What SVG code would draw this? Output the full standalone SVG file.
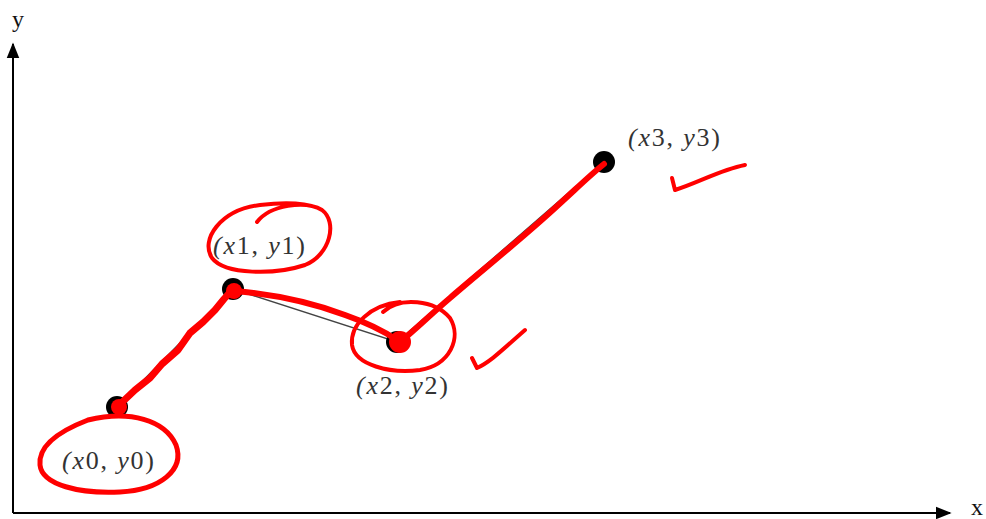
<svg xmlns="http://www.w3.org/2000/svg" width="986" height="519" viewBox="0 0 986 519">
<style>
.ax{stroke:#000;stroke-width:2;fill:none}
.thin{stroke:#444;stroke-width:1.5;fill:none}
.pt{fill:#000}
.red{stroke:#f00;fill:none;stroke-linecap:round;stroke-linejoin:round}
.lbl{font-family:"Liberation Serif",serif;font-size:26px;letter-spacing:1.8px;fill:#333}
.ax-lbl{font-family:"Liberation Serif",serif;font-size:24px;fill:#111}
</style>
<defs>
<marker id="ahb" viewBox="0 0 10 10" refX="9" refY="5" markerWidth="16" markerHeight="16" markerUnits="userSpaceOnUse" orient="auto">
<path d="M0,1 L10,5 L0,9 z" fill="#000"/>
</marker>
</defs>
<rect width="986" height="519" fill="#fff"/>
<g id="axes">
<line class="ax" x1="13" y1="513" x2="13" y2="44" marker-end="url(#ahb)"/>
<line class="ax" x1="13" y1="513" x2="950" y2="513" marker-end="url(#ahb)"/>
<text class="ax-lbl" x="12" y="27">y</text>
<text class="ax-lbl" x="971" y="515">x</text>
</g>
<g id="connectors">
<polyline class="thin" points="117,407 233,289 397,342 604,162"/>
</g>
<g id="p0"><circle class="pt" cx="117" cy="407" r="11"/><text class="lbl" x="62" y="469"><tspan font-style="italic">(x</tspan>0, <tspan font-style="italic">y</tspan>0)</text></g>
<g id="p1"><circle class="pt" cx="233" cy="289" r="11"/><text class="lbl" x="213" y="254"><tspan font-style="italic">(x</tspan>1, <tspan font-style="italic">y</tspan>1)</text></g>
<g id="p2"><circle class="pt" cx="397" cy="342" r="11"/><text class="lbl" x="356" y="394"><tspan font-style="italic">(x</tspan>2, <tspan font-style="italic">y</tspan>2)</text></g>
<g id="p3"><circle class="pt" cx="604" cy="162" r="11"/><text class="lbl" x="628" y="146"><tspan font-style="italic">(x</tspan>3, <tspan font-style="italic">y</tspan>3)</text></g>
<g id="annotations">
<path class="red" stroke-width="7" d="M116,408 L135,390 L150,378 L162,364 L178,350 L190,333 L203,322 L215,310 L224,299 L232,290"/>
<circle cx="119" cy="407" r="8" fill="#f00"/>
<circle cx="234" cy="291" r="8" fill="#f00"/>
<path class="red" stroke-width="6" d="M234,291 C270,294 310,302 345,315 C365,322 382,330 397,340"/>
<circle cx="400" cy="342" r="11" fill="#f00"/>
<path class="red" stroke-width="6" d="M400,342 C415,330 430,315 450,298 C480,272 520,240 555,208 C575,190 590,175 604,164"/>
<path class="red" stroke-width="5" d="M88,420 C130,410 165,420 176,445 C185,470 160,490 120,492 C80,494 42,485 40,465 C38,445 62,430 88,420"/>
<path class="red" stroke-width="4" d="M257,222 C270,205 305,200 322,210 C338,222 330,255 305,265 C275,275 225,275 212,258 C200,240 220,210 260,205 C285,202 305,203 318,208"/>
<path class="red" stroke-width="4" d="M383,312 C400,296 435,300 450,318 C462,338 450,365 420,370 C390,374 355,365 352,345 C350,325 370,305 400,302"/>
<path class="red" stroke-width="4" d="M472,358 L477,368 C490,362 500,352 525,330"/>
<path class="red" stroke-width="4" d="M672,178 L675,190 C700,182 720,170 745,165"/>
</g>
</svg>
